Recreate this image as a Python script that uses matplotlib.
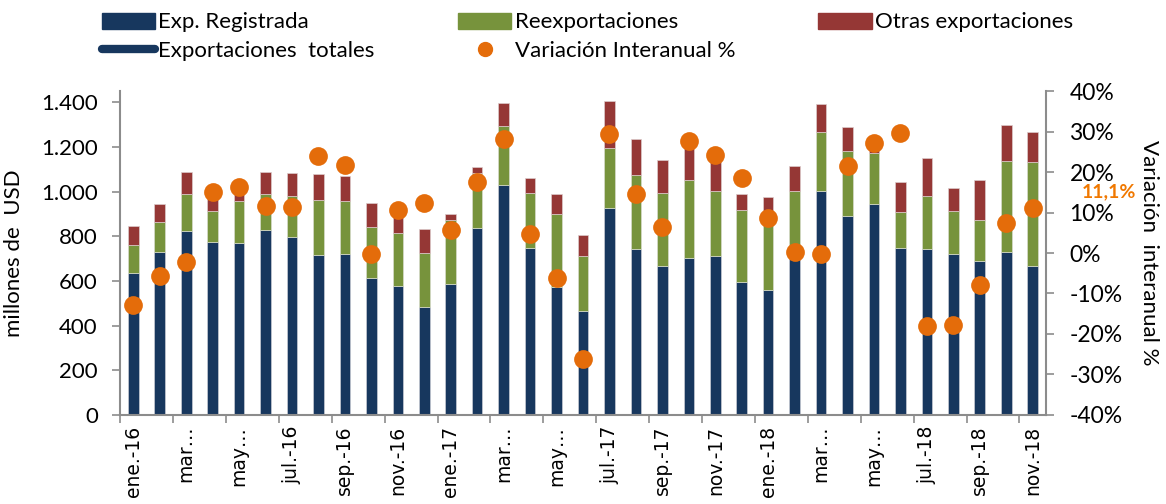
import matplotlib
matplotlib.use("Agg")
from matplotlib import pyplot as plt
from matplotlib.lines import Line2D
from matplotlib.patches import Patch
from matplotlib.ticker import FuncFormatter

plt.rcParams['font.family'] = ['Lato', 'DejaVu Sans']

meses = ['ene.-16', 'feb.-16', 'mar.-16', 'abr.-16', 'may.-16', 'jun.-16',
         'jul.-16', 'ago.-16', 'sep.-16', 'oct.-16', 'nov.-16', 'dic.-16',
         'ene.-17', 'feb.-17', 'mar.-17', 'abr.-17', 'may.-17', 'jun.-17',
         'jul.-17', 'ago.-17', 'sep.-17', 'oct.-17', 'nov.-17', 'dic.-17',
         'ene.-18', 'feb.-18', 'mar.-18', 'abr.-18', 'may.-18', 'jun.-18',
         'jul.-18', 'ago.-18', 'sep.-18', 'oct.-18', 'nov.-18']
etiquetas = ['ene.-16', 'mar…', 'may…', 'jul.-16', 'sep.-16', 'nov.-16',
             'ene.-17', 'mar…', 'may…', 'jul.-17', 'sep.-17', 'nov.-17',
             'ene.-18', 'mar…', 'may…', 'jul.-18', 'sep.-18', 'nov.-18']

exp_registrada = [637, 730, 824, 774, 771, 826, 795, 718, 721, 614, 576, 483,
                  588, 838, 1029, 746, 574, 467, 926, 742, 668, 702, 711, 596,
                  560, 735, 1003, 893, 945, 748, 742, 721, 690, 730, 668]
reexportaciones = [123, 132, 167, 138, 186, 165, 187, 244, 237, 227, 237, 244,
                   284, 247, 263, 248, 326, 245, 268, 334, 328, 349, 294, 321,
                   340, 270, 264, 288, 227, 159, 240, 193, 181, 409, 463]
otras = [86, 81, 96, 63, 58, 96, 102, 116, 111, 106, 112, 105,
         26, 27, 103, 66, 88, 92, 210, 161, 144, 149, 165, 71,
         76, 112, 125, 107, 48, 134, 167, 103, 180, 159, 135]
variacion = [-12.9, -5.7, -2.1, 15.1, 16.3, 11.7, 11.3, 24.0, 21.8, -0.2, 10.7, 12.3,
             5.8, 17.6, 28.2, 4.7, -6.2, -26.2, 29.4, 14.6, 6.4, 27.7, 24.2, 18.5,
             8.7, 0.2, -0.2, 21.4, 27.3, 29.6, -18.1, -17.8, -7.8, 7.5, 11.1]

azul = '#17375E'
verde = '#77933C'
rojo = '#953735'
naranja = '#E46C0A'
gris = '#8c8c8c'

x = list(range(len(meses)))
base2 = exp_registrada
base3 = [a + b for a, b in zip(exp_registrada, reexportaciones)]

fig = plt.figure(figsize=(11.66, 5.04), dpi=100)
ax = fig.add_axes([0.103, 0.177, 0.794, 0.642])

ancho = 0.4
ax.bar(x, exp_registrada, ancho, color=azul, edgecolor='#c8ccd4', linewidth=0.5, zorder=2)
ax.bar(x, reexportaciones, ancho, bottom=base2, color=verde, edgecolor='#d8dccc', linewidth=0.5, zorder=2)
ax.bar(x, otras, ancho, bottom=base3, color=rojo, edgecolor='#dccccc', linewidth=0.5, zorder=2)

ax.set_xlim(-0.5, len(meses) - 0.5)
ax.set_ylim(0, 1450)
ax.set_yticks(range(0, 1401, 200))
ax.yaxis.set_major_formatter(FuncFormatter(lambda v, p: f'{int(v):,}'.replace(',', '.')))
ax.set_ylabel('millones de  USD', fontsize=16, labelpad=12)

# etiquetas cada dos meses, marcas entre barras
ax.set_xticks(x[::2])
ax.set_xticklabels(etiquetas, rotation=90, fontsize=13.5, family='DejaVu Sans')
ax.tick_params(axis='x', length=0, pad=8)
ax.set_xticks([i - 0.5 for i in range(0, len(meses) + 1, 2)], minor=True)
ax.tick_params(axis='x', which='minor', length=6, color=gris, width=1.2)
ax.tick_params(axis='y', labelsize=16, length=6, color=gris, width=1.2, pad=10)

for lado in ['top', 'right']:
    ax.spines[lado].set_visible(False)
for lado in ['left', 'bottom']:
    ax.spines[lado].set_color(gris)
    ax.spines[lado].set_linewidth(1.5)

ax2 = ax.twinx()
ax2.plot(x, variacion, 'o', color=naranja, markersize=13.5, markeredgewidth=0, zorder=3)
ax2.set_ylim(-40, 40)
ax2.set_yticks(range(-40, 41, 10))
ax2.yaxis.set_major_formatter(FuncFormatter(lambda v, p: f'{int(v)}%'))
ax2.tick_params(axis='y', labelsize=16.5, length=6, color=gris, width=1.2, pad=11)
ax2.set_ylabel('Variación  interanual %', fontsize=16, rotation=270, labelpad=26)
for lado in ['top', 'left', 'bottom']:
    ax2.spines[lado].set_visible(False)
ax2.spines['right'].set_color(gris)
ax2.spines['right'].set_linewidth(1.5)

ax2.annotate('11,1%', xy=(x[-1], variacion[-1]), xytext=(35, 12),
             textcoords='offset points', color='#F07800', fontsize=14,
             fontweight='bold', va='center', ha='left', annotation_clip=False)

handles = [
    Patch(color=azul, label='Exp. Registrada'),
    Line2D([0], [0], color=azul, linewidth=6, solid_capstyle='round', label='Exportaciones  totales'),
    Patch(color=verde, label='Reexportaciones'),
    Line2D([0], [0], marker='o', linestyle='none', color=naranja, markersize=10, label='Variación Interanual %'),
    Patch(color=rojo, label='Otras exportaciones'),
]
fig.legend(handles=handles, ncol=3, loc='upper left', bbox_to_anchor=(0.07, 1.015),
           frameon=False, fontsize=16, handlelength=2.4, handleheight=0.75,
           handletextpad=0.15, columnspacing=3.75, labelspacing=0.4)

plt.savefig('out.png', dpi=100)
